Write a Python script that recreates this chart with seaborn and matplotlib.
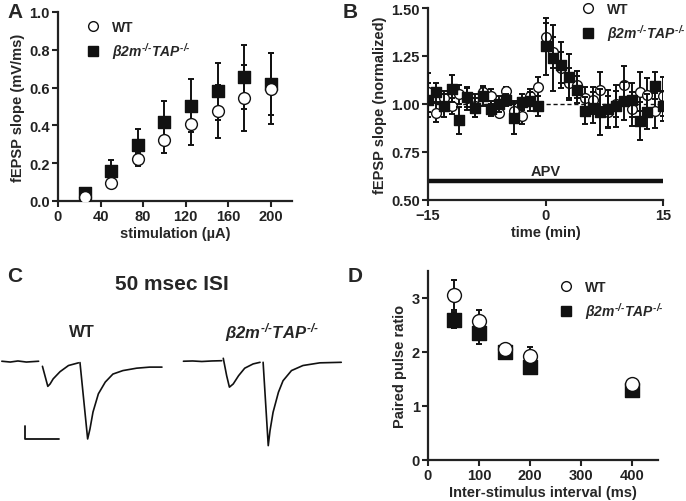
import numpy as np
import pandas as pd
import matplotlib
matplotlib.use("Agg")
import matplotlib.pyplot as plt
from matplotlib.lines import Line2D
import seaborn as sns

# ---------------- data ----------------
# Panel A: input-output curve
stim_uA = [25, 50, 75, 100, 125, 150, 175, 200]
a_wt = [0.02, 0.095, 0.22, 0.325, 0.41, 0.475, 0.545, 0.595]
a_wt_err = [0.01, 0.015, 0.035, 0.07, 0.115, 0.14, 0.172, 0.19]
a_ko = [0.04, 0.16, 0.295, 0.42, 0.505, 0.58, 0.655, 0.62]
a_ko_err = [0.01, 0.055, 0.085, 0.11, 0.14, 0.15, 0.168, 0.165]

# Panel B: normalized fEPSP slope vs time
time_min = list(range(-15, 16))
b_wt = [1.06, 0.955, 1.03, 0.99, 1.05, 1.03, 0.99, 1.065, 1.04, 0.955, 1.07,
        0.965, 0.935, 1.04, 1.09, 1.35, 1.27, 1.19, 1.11, 1.10, 1.03, 1.02,
        1.075, 0.96, 1.00, 1.10, 0.975, 1.065, 1.045, 0.965, 1.04]
b_wt_err = [0.10, 0.05, 0.04, 0.04, 0.05, 0.06, 0.06, 0.03, 0.04, 0.02, 0.02,
            0.05, 0.04, 0.04, 0.05, 0.07, 0.08, 0.08, 0.08, 0.07, 0.06, 0.07,
            0.09, 0.08, 0.07, 0.10, 0.09, 0.10, 0.09, 0.09, 0.10]
b_ko = [1.02, 1.06, 0.99, 1.08, 0.915, 1.035, 0.98, 1.04, 0.975, 1.00, 1.02,
        0.925, 1.01, 1.015, 0.99, 1.30, 1.24, 1.205, 1.14, 1.075, 0.965, 0.98,
        0.96, 0.975, 0.99, 1.015, 1.02, 0.91, 0.96, 1.095, 0.99]
b_ko_err = [0.09, 0.05, 0.06, 0.07, 0.07, 0.05, 0.05, 0.05, 0.04, 0.04, 0.03,
            0.08, 0.04, 0.05, 0.05, 0.15, 0.17, 0.12, 0.12, 0.07, 0.07, 0.08,
            0.12, 0.10, 0.11, 0.10, 0.09, 0.10, 0.09, 0.07, 0.08]

# Panel D: paired pulse ratio
isi_ms = [50, 100, 150, 200, 400]
d_wt = [3.05, 2.57, 2.05, 1.92, 1.40]
d_wt_err = [0.28, 0.2, 0.05, 0.17, 0.05]
d_ko = [2.60, 2.35, 2.00, 1.72, 1.30]
d_ko_err = [0.15, 0.2, 0.12, 0.1, 0.05]

# Panel C: example traces (ms, mV), segments separated by stimulus artifacts
wt_t = [-52, -41, -31, -20, -4,
        1, 8, 11, 15, 24, 35, 48,
        50, 60, 63, 67, 74, 83, 93, 106, 124, 141, 157]
wt_v = [0.00, -0.03, 0.01, -0.03, 0.00,
        -0.19, -0.94, -0.85, -0.66, -0.39, -0.16, -0.06,
        -0.05, -2.91, -2.54, -1.90, -1.22, -0.78, -0.48, -0.35, -0.26, -0.22, -0.22]
wt_seg = [0] * 5 + [1] * 7 + [2] * 11
ko_t = [-52, -40, -28, -15, -2,
        0, 4.4, 8, 13, 20, 28, 39, 48,
        52, 58.7, 61, 65, 72, 78, 89, 104, 126, 154]
ko_v = [0.00, 0.01, -0.01, 0.01, 0.02,
        0.11, -0.54, -0.97, -0.85, -0.54, -0.26, -0.10, -0.04,
        -0.04, -3.16, -2.60, -1.91, -1.16, -0.73, -0.35, -0.16, -0.06, -0.04]
ko_seg = [0] * 5 + [1] * 8 + [2] * 10
scale_ms = 45
scale_mv = 0.5

ko_label = '$\\beta 2m^{\u2010/\u2010}TAP^{\u2010/\u2010}$'

# ---------------- style ----------------
sns.set_style("ticks")
plt.rcParams['font.family'] = ['Liberation Sans', 'DejaVu Sans']
plt.rcParams['font.weight'] = 'bold'
plt.rcParams['axes.labelweight'] = 'bold'
plt.rcParams['mathtext.fontset'] = 'custom'
plt.rcParams['mathtext.it'] = 'Liberation Sans:bold:italic'
plt.rcParams['mathtext.rm'] = 'Liberation Sans:bold:italic'
plt.rcParams['mathtext.bf'] = 'Liberation Sans:bold:italic'
plt.rcParams['mathtext.default'] = 'it'

W, H = 686, 502
fig = plt.figure(figsize=(W / 100, H / 100), dpi=100)


def px_axes(x0, x1, ytop, ybot):
    return fig.add_axes([x0 / W, 1 - ybot / H, (x1 - x0) / W, (ybot - ytop) / H])


def style_axes(ax):
    for s in ['top', 'right']:
        ax.spines[s].set_visible(False)
    for s in ['left', 'bottom']:
        ax.spines[s].set_linewidth(1.6)
        ax.spines[s].set_color('#222222')
    ax.tick_params(width=1.5, length=4, labelsize=10.5, colors='#222222', pad=2)
    for lab in ax.get_xticklabels() + ax.get_yticklabels():
        lab.set_fontweight('bold')


def draw_series(ax, x, y, yerr, marker, face, ms, zo):
    ax.errorbar(x, y, yerr=yerr, fmt='none', ecolor='#111111', elinewidth=1.4,
                capsize=2.5, capthick=1.4, zorder=zo)
    df = pd.DataFrame({'x': x, 'y': y})
    sns.scatterplot(data=df, x='x', y='y', ax=ax, marker=marker, s=ms ** 2,
                    color=face, edgecolor='#111111', linewidth=1.0, zorder=zo + 0.5,
                    legend=False)


def legend(ax, anchor, fs=10, ms=7):
    handles = [Line2D([], [], marker='o', ls='none', mfc='white', mec='#111111', ms=ms, mew=1.0),
               Line2D([], [], marker='s', ls='none', mfc='#111111', mec='#111111', ms=ms)]
    lg = ax.legend(handles, ['WT', ko_label], loc='upper left', bbox_to_anchor=anchor,
                   bbox_transform=fig.transFigure, frameon=False, fontsize=fs,
                   handletextpad=0.9, labelspacing=0.45, handlelength=1.0, borderaxespad=0)
    for t in lg.get_texts():
        t.set_fontweight('bold')


# ---------------- Panel A ----------------
axA = px_axes(58, 292, 13, 202)
draw_series(axA, stim_uA, a_ko, a_ko_err, 's', '#111111', 8, 3)
draw_series(axA, stim_uA, a_wt, a_wt_err, 'o', 'white', 8.5, 4)
axA.set_xlim(0, 220)
axA.set_ylim(0, 1.0)
axA.set_xticks([0, 40, 80, 120, 160, 200])
axA.set_yticks([0.0, 0.2, 0.4, 0.6, 0.8, 1.0])
axA.set_yticklabels(['0.0', '0.2', '0.4', '0.6', '0.8', '1.0'])
axA.set_xlabel('stimulation (\u00b5A)', fontsize=10.5, labelpad=2)
axA.set_ylabel('fEPSP slope (mV/ms)', fontsize=10.5, labelpad=3)
style_axes(axA)
legend(axA, (80 / W, 1 - 15 / H))

# ---------------- Panel B ----------------
axB = px_axes(428, 663, 9, 201)
axB.axhline(1.0, color='#111111', lw=1.0, ls=(0, (3, 2)), zorder=1)
axB.plot([-15, 15], [0.6, 0.6], color='#111111', lw=3.2, solid_capstyle='butt', zorder=2)
axB.text(0, 0.615, 'APV', ha='center', va='bottom', fontsize=10.5, fontweight='bold')
draw_series(axB, time_min, b_wt, b_wt_err, 'o', 'white', 7, 3)
draw_series(axB, time_min, b_ko, b_ko_err, 's', '#111111', 6.5, 4)
axB.set_xlim(-15, 15)
axB.set_ylim(0.5, 1.5)
axB.set_xticks([-15, 0, 15])
axB.set_yticks([0.5, 0.75, 1.0, 1.25, 1.5])
axB.set_yticklabels(['0.50', '0.75', '1.00', '1.25', '1.50'])
axB.set_xlabel('time (min)', fontsize=10.5, labelpad=2)
axB.set_ylabel('fEPSP slope (normalized)', fontsize=10.5, labelpad=3)
style_axes(axB)
legend(axB, (575 / W, 1 + 3 / H))

# ---------------- Panel C ----------------
xl = (-54.4, 167.5)
yl = (-3.66, 2.33)
for (x0, t, v, seg) in [(0, wt_t, wt_v, wt_seg), (181.6, ko_t, ko_v, ko_seg)]:
    axc = px_axes(x0, x0 + 170, 300, 460)
    df = pd.DataFrame({'t': t, 'v': v, 'seg': seg})
    sns.lineplot(data=df, x='t', y='v', units='seg', estimator=None, sort=False,
                 color='#111111', lw=1.2, ax=axc)
    axc.set_xlim(*xl)
    axc.set_ylim(*yl)
    axc.axis('off')
    if x0 == 0:
        sx, sy = -22, -2.91
        axc.plot([sx, sx, sx + scale_ms], [sy + scale_mv, sy, sy], color='#111111', lw=1.3)

fig.text(172 / W, 1 - 285 / H, '50 msec ISI', ha='center', va='center', fontsize=15, fontweight='bold')
fig.text(82 / W, 1 - 333 / H, 'WT', ha='center', va='center', fontsize=12, fontweight='bold')
fig.text(272 / W, 1 - 333 / H, ko_label, ha='center', va='center', fontsize=12)

# ---------------- Panel D ----------------
axD = px_axes(428, 658, 272, 461)
draw_series(axD, isi_ms, d_ko, d_ko_err, 's', '#111111', 9.5, 3)
draw_series(axD, isi_ms, d_wt, d_wt_err, 'o', 'white', 10, 4)
axD.set_xlim(0, 450)
axD.set_ylim(0, 3.5)
axD.set_xticks([0, 100, 200, 300, 400])
axD.set_yticks([0, 1, 2, 3])
axD.set_xlabel('Inter-stimulus interval (ms)', fontsize=10.5, labelpad=2)
axD.set_ylabel('Paired pulse ratio', fontsize=10.5, labelpad=3)
style_axes(axD)
legend(axD, (553 / W, 1 - 275 / H))

# panel letters
for lab, x, y in [('A', 15, 13), ('B', 350, 13), ('C', 15, 277), ('D', 355, 277)]:
    fig.text(x / W, 1 - y / H, lab, ha='center', va='center', fontsize=15, fontweight='bold')

fig.savefig('out.png', dpi=100)
